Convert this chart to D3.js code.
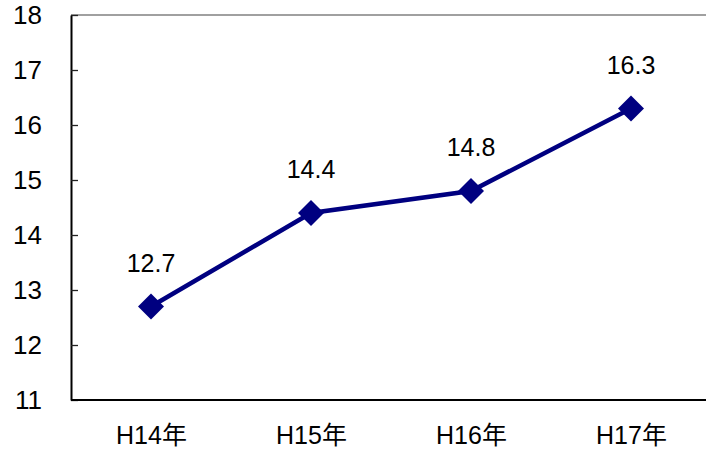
<!DOCTYPE html>
<html>
<head>
  <meta charset="utf-8">
  <title>H14-H17</title>
  <style>
    body {margin: 0; background: #fff;}
    svg  {font-family: "Liberation Sans", Arial, "Noto Sans CJK JP", sans-serif;}
  </style>
</head>
<body>
  <script src="https://d3js.org/d3.v7.min.js"></script>

  <svg width="706" height="453"></svg>

  <script>
    // data
    var categories = ["H14年", "H15年", "H16年", "H17年"];
    var values = [12.7, 14.4, 14.8, 16.3];
    var yTicks = [11, 12, 13, 14, 15, 16, 17, 18];

    // plot area edges (window.top is reserved, so no "top" here)
    var plotL = 71, plotT = 15, plotB = 400, plotR = 711;
    var svg = d3.select("svg");

    var x = d3.scalePoint().domain(categories).range([plotL, plotR]).padding(0.5);
    var y = d3.scaleLinear().domain([11, 18]).range([plotB, plotT]);

    // top border of plot area (gray)
    svg.append("line")
      .attr("x1", plotL).attr("x2", plotR)
      .attr("y1", plotT).attr("y2", plotT)
      .attr("stroke", "#808080").attr("stroke-width", 1.5);

    // y axis
    var yAxis = svg.append("g")
      .attr("transform", "translate(" + plotL + ",0)")
      .call(d3.axisLeft(y).tickValues(yTicks).tickFormat(d3.format("d"))
        .tickSizeInner(-7).tickSizeOuter(0).tickPadding(29));
    yAxis.select(".domain").attr("stroke", "#000").attr("stroke-width", 2);
    yAxis.selectAll(".tick line").attr("stroke", "#222").attr("stroke-width", 1.3);
    yAxis.selectAll(".tick text")
      .attr("font-size", 26).attr("fill", "#000")
      .attr("font-family", "Liberation Sans, Arial, sans-serif");

    // x axis
    var xAxis = svg.append("g")
      .attr("transform", "translate(0," + plotB + ")")
      .call(d3.axisBottom(x).tickSize(0).tickSizeOuter(0).tickPadding(26));
    xAxis.select(".domain").attr("stroke", "#000").attr("stroke-width", 2)
      .attr("d", "M" + plotL + ",0H" + plotR);
    xAxis.selectAll(".tick text")
      .attr("font-size", 25).attr("fill", "#000")
      .attr("font-family", "Liberation Sans, Arial, 'Noto Sans CJK JP', sans-serif");

    // line
    var line = d3.line()
      .x(function(d, i) { return x(categories[i]); })
      .y(function(d) { return y(d); });

    svg.append("path")
      .datum(values)
      .attr("d", line)
      .attr("fill", "none")
      .attr("stroke", "#000080")
      .attr("stroke-width", 4.5);

    // diamond markers
    svg.selectAll(".marker")
      .data(values)
      .enter().append("path")
      .attr("class", "marker")
      .attr("d", "M0,-13L13,0L0,13L-13,0Z")
      .attr("transform", function(d, i) { return "translate(" + x(categories[i]) + "," + y(d) + ")"; })
      .attr("fill", "#000080");

    // data labels
    svg.selectAll(".label")
      .data(values)
      .enter().append("text")
      .attr("class", "label")
      .attr("x", function(d, i) { return x(categories[i]); })
      .attr("y", function(d) { return y(d) - 35; })
      .attr("text-anchor", "middle")
      .attr("font-size", 25)
      .text(function(d) { return d.toFixed(1); });
  </script>
</body>
</html>
